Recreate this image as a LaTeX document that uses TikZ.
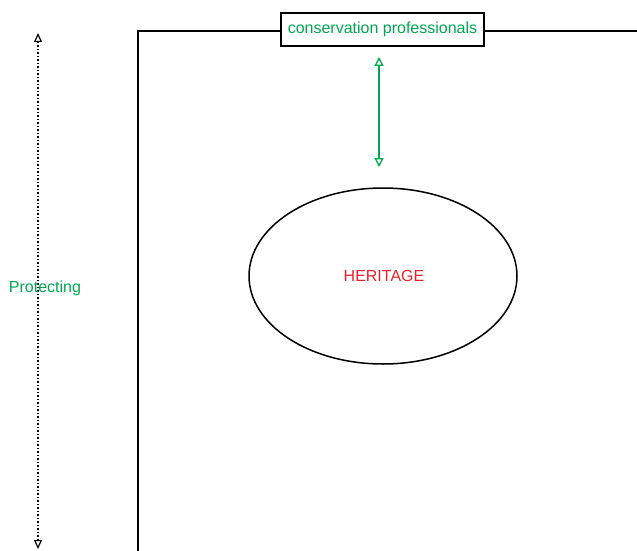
\documentclass[tikz,border=0pt]{standalone}
\usepackage{fontspec}
\setmainfont{Liberation Sans}
\usetikzlibrary{arrows.meta}
\definecolor{cgreen}{RGB}{0,166,81}
\definecolor{cred}{RGB}{232,32,44}
\tikzset{
  frame/.style={line width=1.6pt, black},
  label/.style={font=\fontsize{16}{19}\selectfont, inner sep=0pt},
  opentip/.tip={Triangle[open, length=9pt, width=8pt, line width=1.2pt]},
  greentip/.tip={Triangle[open, length=9pt, width=9pt, line width=1.3pt]},
}
\begin{document}
\begin{tikzpicture}[x=1pt,y=-1pt]
  \useasboundingbox (0,0) rectangle (637,551);
  % title box on the frame
  \node[label, draw, line width=1.8pt, text=cgreen, minimum width=203pt, minimum height=33pt]
    (prof) at (382.5,29.5) {conservation professionals};
  % frame lines
  \coordinate (bl) at (138,560);
  \coordinate (tl) at (138,31);
  \coordinate (tr) at (640,31);
  \draw[frame] (bl) -- (tl) -- (prof.west |- tl);
  \draw[frame] (prof.east |- tr) -- (tr);
  % heritage ellipse
  \draw[line width=1.5pt] (383,276) ellipse [x radius=134pt, y radius=88pt];
  \node[label, text=cred] (her) at (384,276) {HERITAGE};
  % green link
  \coordinate (ga) at (379,57);
  \coordinate (gb) at (379,167);
  \draw[cgreen, line width=2pt, greentip-greentip] (ga) -- (gb);
  % dotted scale
  \coordinate (pa) at (38,33);
  \coordinate (pb) at (38,549);
  \draw[line width=1.5pt, dotted, opentip-opentip] (pa) -- (pb);
  \node[label, text=cgreen] (prot) at (45,288) {Protecting};
\end{tikzpicture}
\end{document}
